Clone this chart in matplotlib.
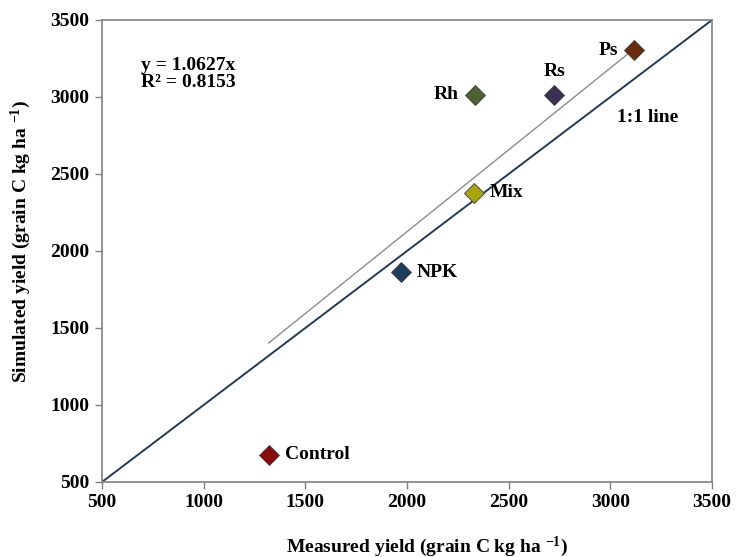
import numpy as np
import matplotlib.pyplot as plt

# Données : rendement mesuré vs simulé (grain C kg ha-1)
treatments = ['Control', 'NPK', 'Mix', 'Rh', 'Rs', 'Ps']
measured = [1320, 1970, 2330, 2335, 2725, 3115]
simulated = [678, 1862, 2378, 3013, 3015, 3305]
colors = ['#8b0a0a', '#1f3b5c', '#a9a30c', '#4b6330', '#3c2f58', '#6a2c0c']
slope = 1.0627
r2 = 0.8153

plt.rcParams['font.family'] = ['Liberation Serif', 'DejaVu Serif']
plt.rcParams['font.weight'] = 'bold'
plt.rcParams['mathtext.fontset'] = 'custom'
plt.rcParams['mathtext.rm'] = 'Liberation Serif:bold'
plt.rcParams['mathtext.default'] = 'rm'

fig = plt.figure(figsize=(7.36, 5.57), dpi=100)
ax = fig.add_axes([0.1386, 0.1347, 0.8288, 0.8294])

# Ligne 1:1
ax.plot([500, 3500], [500, 3500], color='#1f3b5c', lw=1.4, zorder=2)

# Droite de régression passant par l'origine
xs = np.array([min(measured), max(measured)])
ax.plot(xs, slope * xs, color='#8c8c8c', lw=1.0, zorder=2)

for t, x, y, c in zip(treatments, measured, simulated, colors):
    ax.plot(x, y, marker='D', ms=10.5, color=c, mec='#3a3a3a', mew=0.6,
            ls='none', zorder=3)

# Étiquettes des points
offsets = {
    'Control': ((12, 0), 'left', 'center'),
    'NPK': ((11, 0), 'left', 'center'),
    'Mix': ((11, 0), 'left', 'center'),
    'Rh': ((-12, 0), 'right', 'center'),
    'Rs': ((0, 17), 'center', 'center'),
    'Ps': ((-11, 0), 'right', 'center'),
}
for t, x, y in zip(treatments, measured, simulated):
    off, ha, va = offsets[t]
    ax.annotate(t, (x, y), xytext=off, textcoords='offset points',
                ha=ha, va=va, fontsize=14, fontweight='bold')

ax.text(3035, 2865, '1:1 line', fontsize=14, fontweight='bold', va='center')
ax.text(690, 3150, f'y = {slope}x\nR² = {r2}', fontsize=14,
        fontweight='bold', va='center', linespacing=0.95)

ax.set_xlim(500, 3500)
ax.set_ylim(500, 3500)
ax.set_xticks(np.arange(500, 3501, 500))
ax.set_yticks(np.arange(500, 3501, 500))
ax.tick_params(direction='out', length=5, width=1, color='#808080',
               labelsize=14, pad=4)
for lab in ax.get_xticklabels() + ax.get_yticklabels():
    lab.set_fontweight('bold')
for sp in ax.spines.values():
    sp.set_color('#808080')
    sp.set_linewidth(1.2)

ax.set_xlabel(r'Measured yield (grain C kg ha $^{-1}$)', fontsize=14,
              fontweight='bold')
ax.set_ylabel(r'Simulated yield (grain C kg ha $^{-1}$)', fontsize=14,
              fontweight='bold')
ax.xaxis.set_label_coords(0.533, -0.113)
ax.yaxis.set_label_coords(-0.113, 0.52)

plt.savefig('out.png', dpi=100)
